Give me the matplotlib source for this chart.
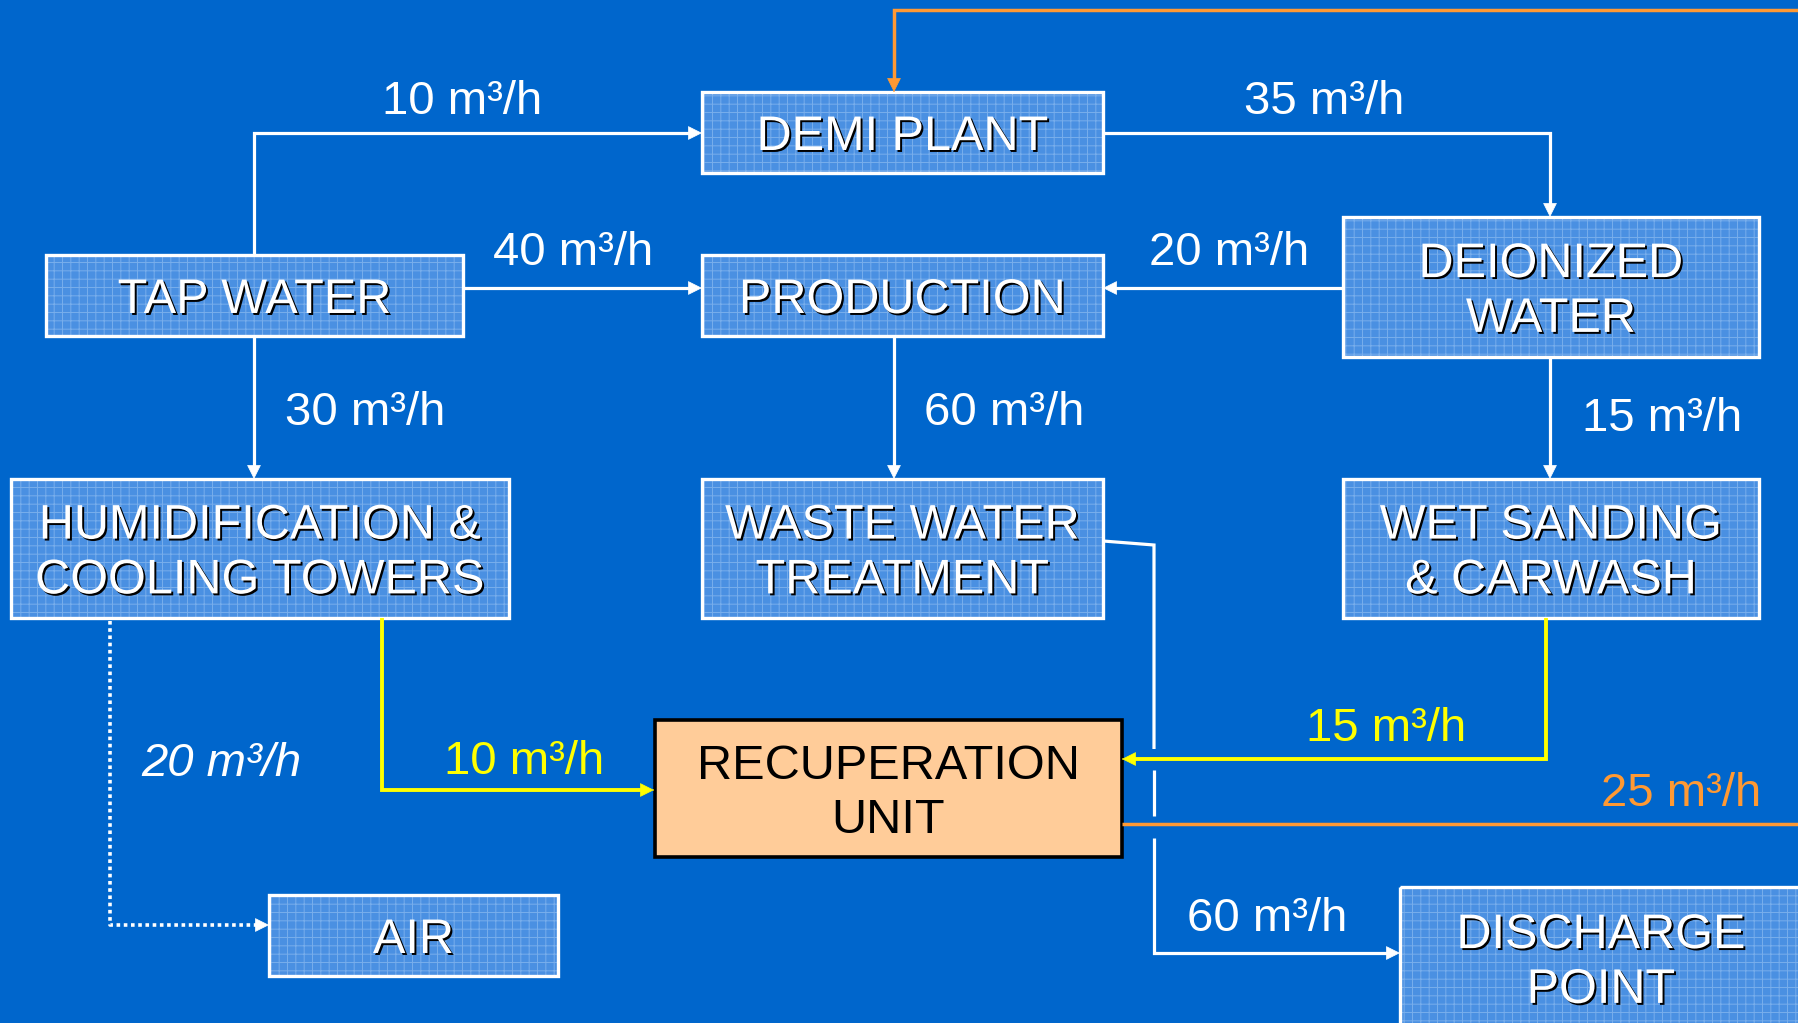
import matplotlib.pyplot as plt
import matplotlib.patheffects as pe
from matplotlib.patches import Rectangle

# fonts
plt.rcParams['font.family'] = ['Liberation Sans', 'DejaVu Sans']
plt.rcParams['hatch.linewidth'] = 0.7

# colours
BG = '#0066CC'
BOX = '#4A90E2'
GRID = '#78AEEC'
WHITE = 'white'
YELLOW = '#FFFF00'
ORANGE = '#FF9933'
PEACH = '#FFCC99'

# node names
node_names = ['DEMI PLANT', 'TAP WATER', 'PRODUCTION', 'DEIONIZED\nWATER',
              'HUMIDIFICATION &\nCOOLING TOWERS', 'WASTE WATER\nTREATMENT',
              'WET SANDING\n& CARWASH', 'RECUPERATION\nUNIT', 'AIR',
              'DISCHARGE\nPOINT']

# flow rates in m3/h
flow_rates = [10, 35, 40, 20, 30, 60, 15, 20, 10, 15, 25, 60]
flow_colors = [WHITE, WHITE, WHITE, WHITE, WHITE, WHITE, WHITE, WHITE,
               YELLOW, YELLOW, ORANGE, WHITE]
flow_italic = [False] * 7 + [True] + [False] * 4

# layout (pixel coords, y down): box extents
box_xy = {
    'DEMI PLANT': (702, 92, 1103, 173),
    'TAP WATER': (46, 255, 463, 336),
    'PRODUCTION': (702, 255, 1103, 336),
    'DEIONIZED\nWATER': (1343, 217, 1759, 357),
    'HUMIDIFICATION &\nCOOLING TOWERS': (11, 479, 509, 618),
    'WASTE WATER\nTREATMENT': (702, 479, 1103, 618),
    'WET SANDING\n& CARWASH': (1343, 479, 1759, 618),
    'RECUPERATION\nUNIT': (655, 720, 1122, 857),
    'AIR': (269, 895, 558, 976),
    'DISCHARGE\nPOINT': (1400, 887, 1830, 1060),
}
text_xy = {
    'DISCHARGE\nPOINT': (1601, 958),
}

# label positions for the flows
label_xy = [(462, 97), (1324, 97), (573, 248), (1229, 248), (365, 408),
            (1004, 408), (1662, 414), (221, 759), (524, 757), (1386, 724),
            (1681, 789), (1267, 914)]

fig = plt.figure(figsize=(17.98, 10.23), dpi=100)
fig.patch.set_facecolor(BG)
ax = fig.add_axes([0, 0, 1, 1])
ax.set_xlim(0, 1798)
ax.set_ylim(1023, 0)
ax.axis('off')
ax.set_facecolor(BG)

shadow = [pe.SimplePatchShadow(offset=(1.4, -1.4), shadow_rgbFace='black', alpha=1.0),
          pe.Normal()]

for name in node_names:
    x0, y0, x1, y1 = box_xy[name]
    if name.startswith('RECUPERATION'):
        ax.add_patch(Rectangle((x0, y0), x1 - x0, y1 - y0, facecolor=PEACH,
                               edgecolor='black', lw=2.6, zorder=3))
        tcol, effects = 'black', None
    else:
        ax.add_patch(Rectangle((x0, y0), x1 - x0, y1 - y0, facecolor=BOX,
                               edgecolor=GRID, hatch='++', lw=0, zorder=2))
        ax.add_patch(Rectangle((x0, y0), x1 - x0, y1 - y0, fill=False,
                               edgecolor=WHITE, lw=2.4, zorder=3))
        tcol, effects = WHITE, shadow
    cx, cy = text_xy.get(name, ((x0 + x1) / 2, (y0 + y1) / 2))
    ax.text(cx, cy + 5, name, ha='center', va='center', fontsize=35,
            color=tcol, linespacing=1.28, zorder=5, path_effects=effects)


def route(points, color, lw=2.3, ls='-', head=True, z=4):
    xs = [p[0] for p in points]
    ys = [p[1] for p in points]
    if head:
        (xa, ya), (xb, yb) = points[-2], points[-1]
        d = ((xb - xa) ** 2 + (yb - ya) ** 2) ** 0.5
        xs[-1] = xb - (xb - xa) / d * 6
        ys[-1] = yb - (yb - ya) / d * 6
    ax.plot(xs, ys, color=color, lw=lw, ls=ls, solid_capstyle='butt',
            solid_joinstyle='miter', zorder=z)
    if head:
        ax.annotate('', xy=(xb, yb), xytext=(xb - (xb - xa) / d, yb - (yb - ya) / d),
                    arrowprops=dict(arrowstyle='-|>', color=color, lw=0.5,
                                    mutation_scale=23, shrinkA=0, shrinkB=0),
                    zorder=z)


# white flows
route([(254, 255), (254, 133), (702, 133)], WHITE)
route([(1103, 133), (1550, 133), (1550, 217)], WHITE)
route([(463, 288), (702, 288)], WHITE)
route([(1343, 288), (1103, 288)], WHITE)
route([(254, 336), (254, 479)], WHITE)
route([(894, 336), (894, 479)], WHITE)
route([(1550, 357), (1550, 479)], WHITE)
route([(110, 621), (110, 925), (269, 925)], WHITE, lw=2.6, ls=(0, (1, 1)))

# waste water to discharge, broken where it crosses the recuperation lines
route([(1103, 541), (1154, 545), (1154, 749)], WHITE, head=False)
route([(1154, 770), (1154, 816)], WHITE, head=False)
route([(1154, 838), (1154, 953), (1400, 953)], WHITE)

# yellow recovery flows
route([(382, 618), (382, 790), (654, 790)], YELLOW, lw=2.8)
route([(1546, 618), (1546, 759), (1122, 759)], YELLOW, lw=2.8)

# orange return to demi plant
route([(1122, 824), (1798, 824)], ORANGE, lw=2.5, head=False)
route([(1798, 10), (894, 10), (894, 92)], ORANGE, lw=2.5)

for v, (x, y), c, it in zip(flow_rates, label_xy, flow_colors, flow_italic):
    ax.text(x, y + 5, f'{v} m³/h', ha='center', va='center', fontsize=34, color=c,
            style='italic' if it else 'normal', zorder=6)

fig.savefig('out.png', dpi=100, facecolor=BG)
